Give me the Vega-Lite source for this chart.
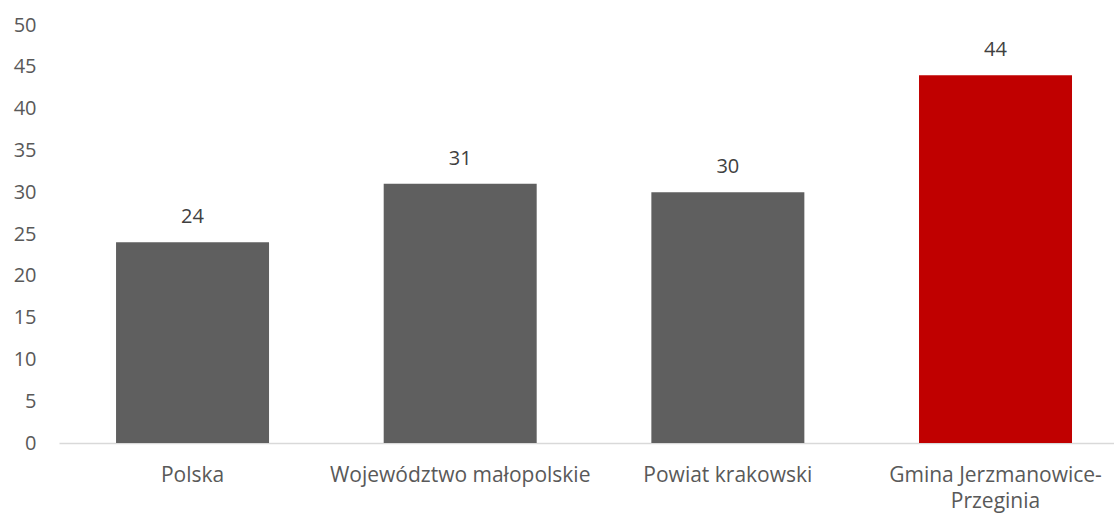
{
  "$schema": "https://vega.github.io/schema/vega-lite/v6.json",
  "autosize": {"type": "none"},
  "padding": {"left": 59, "top": 25, "right": 0, "bottom": 70},
  "width": 1055,
  "height": 418,
  "background": "white",
  "config": {
    "view": {"stroke": null},
    "font": "Open Sans",
    "axis": {"labelFont": "Open Sans", "labelColor": "#595959", "labelFontSize": 20, "labelLimit": 500}
  },
  "data": {
    "values": [
      {"region": "Polska", "value": 24, "highlight": "no"},
      {"region": "Województwo małopolskie", "value": 31, "highlight": "no"},
      {"region": "Powiat krakowski", "value": 30, "highlight": "no"},
      {"region": "Gmina Jerzmanowice-Przeginia", "value": 44, "highlight": "yes"}
    ]
  },
  "encoding": {
    "x": {
      "field": "region",
      "type": "nominal",
      "sort": null,
      "scale": {"paddingInner": 0.4284, "paddingOuter": 0.185, "align": 0.576},
      "axis": {
        "title": null,
        "labelAngle": 0,
        "ticks": false,
        "domainColor": "#d9d9d9",
        "domainWidth": 1.5,
        "labelFontSize": 21,
        "labelPadding": 21,
        "labelLineHeight": 26,
        "labelExpr": "datum.value == 'Gmina Jerzmanowice-Przeginia' ? ['Gmina Jerzmanowice-', 'Przeginia'] : datum.value"
      }
    },
    "y": {
      "field": "value",
      "type": "quantitative",
      "scale": {"domain": [0, 50], "nice": false},
      "axis": {
        "title": null,
        "values": [0, 5, 10, 15, 20, 25, 30, 35, 40, 45, 50],
        "grid": false,
        "ticks": false,
        "domain": false,
        "labelPadding": 23
      }
    }
  },
  "layer": [
    {
      "mark": {"type": "bar"},
      "encoding": {
        "color": {
          "field": "highlight",
          "type": "nominal",
          "scale": {"domain": ["no", "yes"], "range": ["#5f5f5f", "#c00000"]},
          "legend": null
        }
      }
    },
    {
      "mark": {"type": "text", "baseline": "alphabetic", "dy": -19, "fontSize": 20, "color": "#404040", "font": "Open Sans"},
      "encoding": {"text": {"field": "value", "type": "quantitative"}}
    }
  ]
}
